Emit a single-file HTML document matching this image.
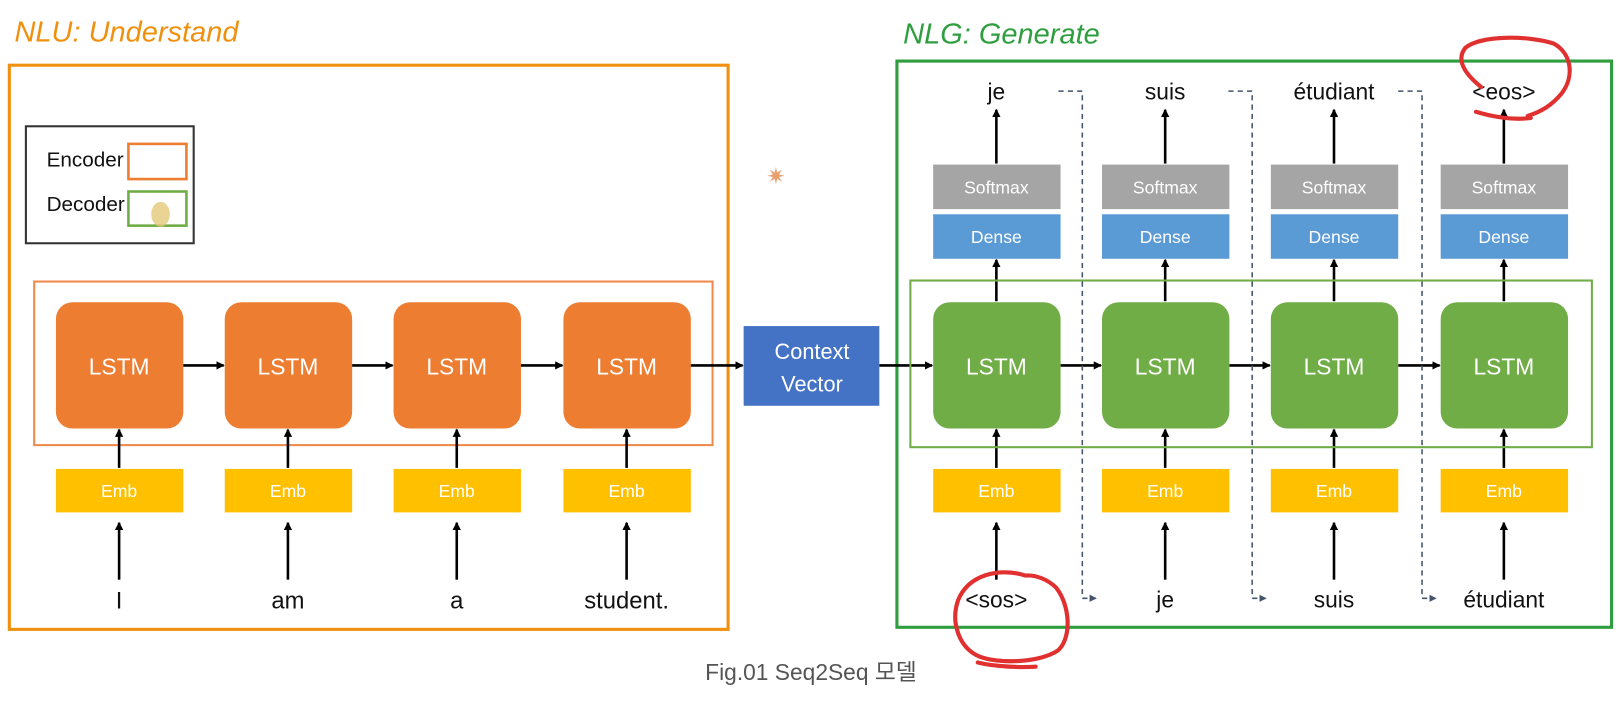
<!DOCTYPE html>
<html><head><meta charset="utf-8"><style>
html,body{margin:0;padding:0;background:#fff;width:1624px;height:707px;overflow:hidden}
svg{display:block}
text{font-family:"Liberation Sans","DejaVu Sans",sans-serif}
</style></head><body>
<svg width="1624" height="707" viewBox="0 0 1568 683" preserveAspectRatio="none" xmlns="http://www.w3.org/2000/svg">
<defs>
<marker id="a" markerWidth="8" markerHeight="8" refX="7" refY="4" orient="auto" markerUnits="userSpaceOnUse"><path d="M0,0 L8,4 L0,8 z" fill="#000"/></marker>
<marker id="d" markerWidth="7" markerHeight="7" refX="6" refY="3.5" orient="auto" markerUnits="userSpaceOnUse"><path d="M0,0 L7,3.5 L0,7 z" fill="#44546A"/></marker>
</defs>
<text x="14" y="40" font-family="'DejaVu Sans',sans-serif" font-style="italic" font-size="28" fill="#F0900F">NLU: Understand</text>
<text x="872" y="42" font-family="'DejaVu Sans',sans-serif" font-style="italic" font-size="28" fill="#2E9E3F">NLG: Generate</text>
<rect x="9" y="63" width="694" height="545" fill="none" stroke="#F0900F" stroke-width="3"/>
<rect x="866" y="59" width="690" height="547" fill="none" stroke="#2E9E3F" stroke-width="3"/>
<rect x="25" y="122" width="162" height="113" fill="none" stroke="#333" stroke-width="2"/>
<text x="45" y="161" font-size="20" fill="#111">Encoder</text>
<text x="45" y="204" font-size="20" fill="#111">Decoder</text>
<rect x="124" y="139" width="56" height="34" fill="none" stroke="#ED7D31" stroke-width="2.5"/>
<rect x="124" y="185" width="56" height="33" fill="none" stroke="#70AD47" stroke-width="2.5"/>
<ellipse cx="155" cy="207" rx="9" ry="12" fill="#E3C97A" opacity="0.8"/>
<text x="740" y="178" font-size="22" fill="#E8A070">✷</text>
<rect x="33" y="272" width="655" height="158" fill="none" stroke="#F08A4B" stroke-width="2"/>
<g font-size="22" fill="#fff" text-anchor="middle">
<rect x="54" y="292" width="123" height="122" rx="16" fill="#ED7D31"/><text x="115" y="362">LSTM</text>
<rect x="217" y="292" width="123" height="122" rx="16" fill="#ED7D31"/><text x="278" y="362">LSTM</text>
<rect x="380" y="292" width="123" height="122" rx="16" fill="#ED7D31"/><text x="441" y="362">LSTM</text>
<rect x="544" y="292" width="123" height="122" rx="16" fill="#ED7D31"/><text x="605" y="362">LSTM</text>
</g>
<g font-size="17" fill="#fff" text-anchor="middle">
<rect x="54" y="453" width="123" height="42" fill="#FFC000"/><text x="115" y="480">Emb</text>
<rect x="217" y="453" width="123" height="42" fill="#FFC000"/><text x="278" y="480">Emb</text>
<rect x="380" y="453" width="123" height="42" fill="#FFC000"/><text x="441" y="480">Emb</text>
<rect x="544" y="453" width="123" height="42" fill="#FFC000"/><text x="605" y="480">Emb</text>
</g>
<g stroke="#000" stroke-width="2.5" marker-end="url(#a)">
<line x1="115" y1="452" x2="115" y2="415"/><line x1="278" y1="452" x2="278" y2="415"/><line x1="441" y1="452" x2="441" y2="415"/><line x1="605" y1="452" x2="605" y2="415"/>
<line x1="115" y1="560" x2="115" y2="505"/><line x1="278" y1="560" x2="278" y2="505"/><line x1="441" y1="560" x2="441" y2="505"/><line x1="605" y1="560" x2="605" y2="505"/>
<line x1="177" y1="353" x2="216" y2="353"/><line x1="340" y1="353" x2="379" y2="353"/><line x1="503" y1="353" x2="543" y2="353"/><line x1="667" y1="353" x2="717" y2="353"/>
<line x1="849" y1="353" x2="900" y2="353"/><line x1="1024" y1="353" x2="1063" y2="353"/><line x1="1187" y1="353" x2="1226" y2="353"/><line x1="1350" y1="353" x2="1390" y2="353"/>
<line x1="962" y1="452" x2="962" y2="415"/><line x1="1125" y1="452" x2="1125" y2="415"/><line x1="1288" y1="452" x2="1288" y2="415"/><line x1="1452" y1="452" x2="1452" y2="415"/>
<line x1="962" y1="560" x2="962" y2="505"/><line x1="1125" y1="560" x2="1125" y2="505"/><line x1="1288" y1="560" x2="1288" y2="505"/><line x1="1452" y1="560" x2="1452" y2="505"/>
<line x1="962" y1="291" x2="962" y2="251"/><line x1="1125" y1="291" x2="1125" y2="251"/><line x1="1288" y1="291" x2="1288" y2="251"/><line x1="1452" y1="291" x2="1452" y2="251"/>
<line x1="962" y1="158" x2="962" y2="106"/><line x1="1125" y1="158" x2="1125" y2="106"/><line x1="1288" y1="158" x2="1288" y2="106"/><line x1="1452" y1="158" x2="1452" y2="106"/>
</g>
<g font-size="23" fill="#111" text-anchor="middle">
<text x="115" y="588">I</text><text x="278" y="588">am</text><text x="441" y="588">a</text><text x="605" y="588">student.</text>
</g>
<rect x="718" y="315" width="131" height="77" fill="#4472C4"/>
<text x="784" y="347" font-size="21" fill="#fff" text-anchor="middle">Context</text>
<text x="784" y="378" font-size="21" fill="#fff" text-anchor="middle">Vector</text>
<rect x="879" y="271" width="658" height="161" fill="none" stroke="#70AD47" stroke-width="2"/>
<g font-size="22" fill="#fff" text-anchor="middle">
<rect x="901" y="292" width="123" height="122" rx="16" fill="#70AD47"/><text x="962" y="362">LSTM</text>
<rect x="1064" y="292" width="123" height="122" rx="16" fill="#70AD47"/><text x="1125" y="362">LSTM</text>
<rect x="1227" y="292" width="123" height="122" rx="16" fill="#70AD47"/><text x="1288" y="362">LSTM</text>
<rect x="1391" y="292" width="123" height="122" rx="16" fill="#70AD47"/><text x="1452" y="362">LSTM</text>
</g>
<g font-size="17" fill="#fff" text-anchor="middle">
<rect x="901" y="453" width="123" height="42" fill="#FFC000"/><text x="962" y="480">Emb</text>
<rect x="1064" y="453" width="123" height="42" fill="#FFC000"/><text x="1125" y="480">Emb</text>
<rect x="1227" y="453" width="123" height="42" fill="#FFC000"/><text x="1288" y="480">Emb</text>
<rect x="1391" y="453" width="123" height="42" fill="#FFC000"/><text x="1452" y="480">Emb</text>
<rect x="901" y="207" width="123" height="43" fill="#5B9BD5"/><text x="962" y="235">Dense</text>
<rect x="1064" y="207" width="123" height="43" fill="#5B9BD5"/><text x="1125" y="235">Dense</text>
<rect x="1227" y="207" width="123" height="43" fill="#5B9BD5"/><text x="1288" y="235">Dense</text>
<rect x="1391" y="207" width="123" height="43" fill="#5B9BD5"/><text x="1452" y="235">Dense</text>
<rect x="901" y="159" width="123" height="43" fill="#A5A5A5"/><text x="962" y="187">Softmax</text>
<rect x="1064" y="159" width="123" height="43" fill="#A5A5A5"/><text x="1125" y="187">Softmax</text>
<rect x="1227" y="159" width="123" height="43" fill="#A5A5A5"/><text x="1288" y="187">Softmax</text>
<rect x="1391" y="159" width="123" height="43" fill="#A5A5A5"/><text x="1452" y="187">Softmax</text>
</g>
<g font-size="22" fill="#111" text-anchor="middle">
<text x="962" y="96">je</text><text x="1125" y="96">suis</text><text x="1288" y="96">étudiant</text><text x="1452" y="96">&lt;eos&gt;</text>
<text x="962" y="587">&lt;sos&gt;</text><text x="1125" y="587">je</text><text x="1288" y="587">suis</text><text x="1452" y="587">étudiant</text>
</g>
<g fill="none" stroke="#44546A" stroke-width="1.5" stroke-dasharray="5,4">
<path d="M1022,88 H1045 V578 H1058" marker-end="url(#d)"/>
<path d="M1186,88 H1209 V578 H1222" marker-end="url(#d)"/>
<path d="M1350,88 H1373 V578 H1386" marker-end="url(#d)"/>
</g>
<g fill="none" stroke="#E03030" stroke-width="4" stroke-linecap="round">
<path d="M990,556 C965,548 935,555 925,580 C918,600 925,625 945,634 C965,642 1005,640 1022,628 C1035,615 1033,585 1020,568 C1012,560 1000,555 990,556 M944,640 C960,644 985,645 1000,644"/>
<path d="M1430,84 C1415,72 1405,58 1415,46 C1430,34 1475,34 1500,42 C1518,52 1520,74 1508,90 C1498,102 1488,108 1475,112 M1425,108 C1445,114 1462,116 1478,114"/>
</g>
<text x="783" y="657" font-family="'Liberation Sans','Noto Sans CJK KR',sans-serif" font-size="22" fill="#555" text-anchor="middle">Fig.01 Seq2Seq 모델</text>
</svg>
</body></html>
